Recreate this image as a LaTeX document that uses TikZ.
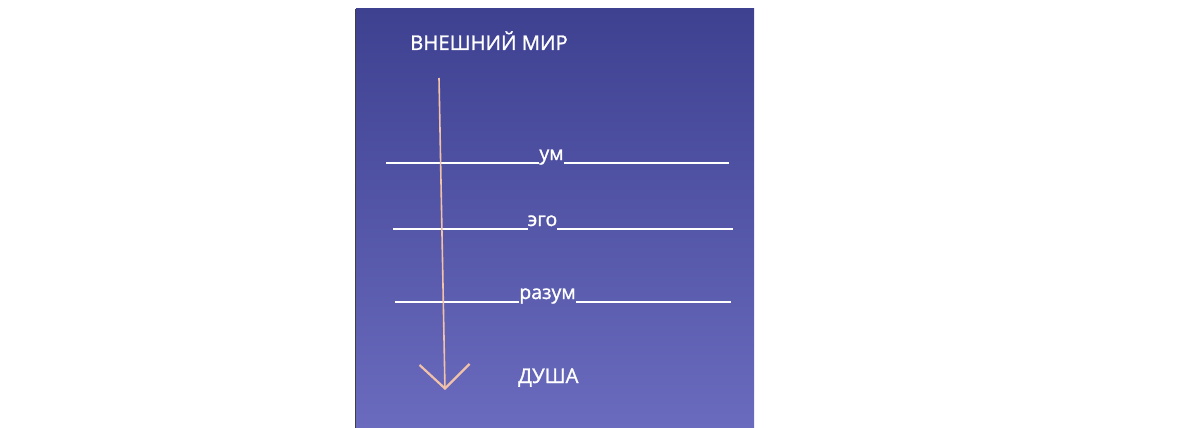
\documentclass[tikz,border=0pt]{standalone}
\usepackage{fontspec}
\setmainfont{Open Sans}
\newfontfamily\heavyfont[FakeBold=1.2]{Open Sans}
\usetikzlibrary{arrows.meta}

\definecolor{paneltop}{HTML}{3E4090}
\definecolor{panelbottom}{HTML}{6A6BBE}
\definecolor{peach}{HTML}{F2C2A8}

\begin{document}
\begin{tikzpicture}[x=1pt, y=-1pt,
                    title node/.style={text=white,inner sep=0pt,font=\heavyfont\fontsize{20.3}{24}\selectfont},
                    word node/.style={text=white,inner sep=0pt,font=\heavyfont\fontsize{19.5}{22}\selectfont},
                    rule/.style={draw=white,line width=1.5pt},
                    path arrow/.style={draw=peach,line width=1.6pt,
                      -{Straight Barb[length=24pt,width=50pt,line width=2.2pt]}}]

  \useasboundingbox (0,0) rectangle (1200,428);
  \fill[white] (0,0) rectangle (1200,428);
  \shade[top color=paneltop,bottom color=panelbottom] (356,9) rectangle (754,428);
  \draw[black!75,line width=1pt] (355.5,9) -- (355.5,428);

  \node[title node,anchor=base west] (world) at (410,50) {ВНЕШНИЙ МИР};
  \node[title node,anchor=base west] (soul) at (518,383) {ДУША};

  \node[word node,anchor=base] (um) at (551.5,160) {ум};
  \node[word node,anchor=base] (ego) at (542.5,226) {эго};
  \node[word node,anchor=base] (razum) at (547.5,299) {разум};

  \coordinate (um l) at (386,163);
  \coordinate (um r) at (729,163);
  \coordinate (ego l) at (393,229);
  \coordinate (ego r) at (733,229);
  \coordinate (razum l) at (395,302);
  \coordinate (razum r) at (731,302);

  \foreach \w in {um,ego,razum}{
    \draw[rule] (\w\space l) -- (\w\space l -| \w.west);
    \draw[rule] (\w\space r -| \w.east) -- (\w\space r);
  }

  \coordinate (start) at (439,78);
  \coordinate (tip) at (445,390);
  \draw[path arrow] (start) -- (tip);

\end{tikzpicture}
\end{document}
